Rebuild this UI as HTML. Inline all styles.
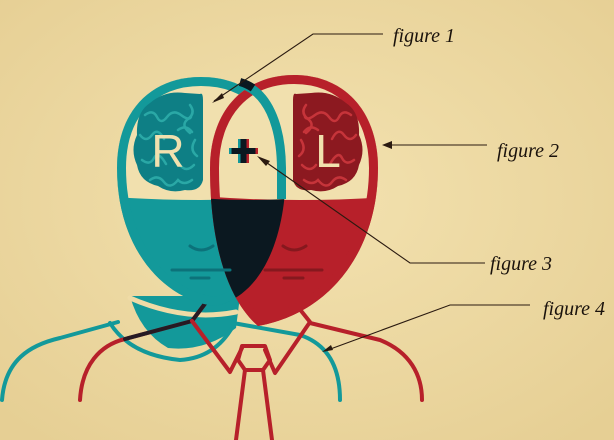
<!DOCTYPE html>
<html><head><meta charset="utf-8"><style>
html,body{margin:0;padding:0;background:#efdba6;}
svg{display:block}
</style></head><body>
<svg width="614" height="440" viewBox="0 0 614 440" xmlns="http://www.w3.org/2000/svg">
<defs>
<radialGradient id="bg" cx="50%" cy="45%" r="70%">
<stop offset="0" stop-color="#f3e2b0"/><stop offset="1" stop-color="#e6cf94"/>
</radialGradient>
<path id="th" d="M201,77 C252,77 286,112 286,168 C286,238 262,296 215,306 C165,300 117,250 117,168 C117,112 150,77 201,77 Z"/>
<path id="rh" d="M294,75 C345,75 378,112 378,168 C378,245 335,312 258,326 C228,300 210,245 210,168 C210,112 243,75 294,75 Z"/>
<clipPath id="ct"><use href="#th"/></clipPath>
<clipPath id="cr"><use href="#rh"/></clipPath>
</defs>
<rect width="614" height="440" fill="url(#bg)"/>

<g fill="none" stroke-linecap="round" stroke-linejoin="round">
<path d="M130,296 L240,296 L236,328 Q205,352 168,348 Q140,332 130,296 Z" fill="#13999a" stroke="none"/>
<path d="M130,298 Q185,322 236,312" stroke="#efdba6" stroke-width="5"/>
<path d="M2,400 C5,360 30,345 60,338 L118,322" stroke="#13999a" stroke-width="4"/>
<path d="M110,323 Q130,355 180,360 Q215,358 233,326" stroke="#13999a" stroke-width="4"/>
<path d="M233,323 L300,335 C330,345 340,370 340,400" stroke="#13999a" stroke-width="4"/>
<path d="M80,400 C82,365 100,345 125,339 L192,321" stroke="#b7202a" stroke-width="4"/>
<path d="M192,321 L210,297" stroke="#b7202a" stroke-width="4"/>
<path d="M125,339 L192,321 L210,297" stroke="#0d1a22" stroke-width="4" stroke-opacity="0.85"/>
<path d="M192,321 L230,372 L242,348" stroke="#b7202a" stroke-width="4"/>
<path d="M290,297 L310,322 L275,373 L265,350" stroke="#b7202a" stroke-width="4"/>
<path d="M310,323 L380,340 C410,352 422,375 422,400" stroke="#b7202a" stroke-width="4"/>
<path d="M242,346 L265,346 L270,360 L263,370 L245,370 L238,360 Z" stroke="#b7202a" stroke-width="4"/>
<path d="M245,370 L236,440 M263,370 L272,440" stroke="#b7202a" stroke-width="4"/>
</g>

<g clip-path="url(#ct)">
<rect x="100" y="60" width="200" height="280" fill="#13999a"/>
<path d="M100,60 H300 V196 Q200,204 100,196 Z" fill="#f1e0ae"/>
<use href="#th" fill="none" stroke="#13999a" stroke-width="18"/>
</g>
<g clip-path="url(#cr)">
<rect x="200" y="60" width="200" height="280" fill="#b7202a"/>
<path d="M200,60 H400 V196 Q300,204 200,196 Z" fill="#f1e0ae"/>
<use href="#rh" fill="none" stroke="#b7202a" stroke-width="18"/>
</g>
<g clip-path="url(#ct)"><g clip-path="url(#cr)">
<path d="M200,198 Q250,202 300,198 V340 H200 Z" fill="#0b1820"/>
</g></g>
<path d="M244,85 C266,93 281,122 281.5,168 L281.5,199" fill="none" stroke="#13999a" stroke-width="9"/>
<path d="M240,82 Q247,84 253,88" fill="none" stroke="#0b1820" stroke-width="8"/>

<path d="M200,94 Q203,92 203,100 L203,180 Q200,192 185,190 Q170,194 158,186 Q140,182 137,165 Q130,150 137,135 Q136,112 150,103 Q165,90 185,93 Z" fill="#0e7f85"/>
<g fill="none" stroke="#2aa8a6" stroke-width="2.5" stroke-linecap="round">
<path d="M145,115 q8,-6 12,2 t10,0 q6,-8 14,-2 t10,2"/>
<path d="M140,135 q6,8 12,0 t12,4 M178,130 q8,-6 14,2"/>
<path d="M142,160 q8,6 12,-2 t12,6 M180,165 q6,8 14,0"/>
<path d="M150,180 q8,-6 14,2 t14,-2 q6,6 14,0"/>
<path d="M190,105 q6,8 -2,14 t2,14 M195,140 q-6,10 2,16"/>
</g>
<path d="M296,94 Q293,92 293,100 L293,180 Q296,192 311,190 Q326,194 338,186 Q356,182 359,165 Q366,150 359,135 Q360,112 346,103 Q331,90 311,93 Z" fill="#8c1920"/>
<g fill="none" stroke="#c6343a" stroke-width="2.5" stroke-linecap="round">
<path d="M351,115 q-8,-6 -12,2 t-10,0 q-6,-8 -14,-2 t-10,2"/>
<path d="M356,135 q-6,8 -12,0 t-12,4 M318,130 q-8,-6 -14,2"/>
<path d="M354,160 q-8,6 -12,-2 t-12,6 M316,165 q-6,8 -14,0"/>
<path d="M346,180 q-8,-6 -14,2 t-14,-2 q-6,6 -14,0"/>
<path d="M306,105 q-6,8 2,14 t-2,14 M301,140 q6,10 -2,16"/>
</g>
<text x="168" y="167" font-family="Liberation Sans, sans-serif" font-size="46" fill="#f1e0ae" text-anchor="middle">R</text>
<text x="328" y="167" font-family="Liberation Sans, sans-serif" font-size="46" fill="#f1e0ae" text-anchor="middle">L</text>
<g stroke-width="6">
<path d="M241,139 V163 M229,151 H253" stroke="#13999a"/>
<path d="M246,139 V163 M234,151 H258" stroke="#b7202a"/>
<path d="M243.5,139 V163 M231.5,151 H255.5" stroke="#0b1820"/>
</g>

<g fill="none" stroke-linecap="round" stroke-width="3">
<path d="M190,246 Q201,254 213,246" stroke="#0c727a"/>
<path d="M172,270 H230 M191,278 H209" stroke="#0c727a"/>
<path d="M283,246 Q294,254 306,246" stroke="#86181e"/>
<path d="M265,270 H322 M284,278 H303" stroke="#86181e"/>
</g>

<g fill="none" stroke="#2a1a10" stroke-width="1.1">
<path d="M383,34 H313 L214,101"/>
<path d="M487,145 H386"/>
<path d="M485,263 H410 L260,158"/>
<path d="M530,305 H450 L325,351"/>
</g>
<g fill="#2a1a10">
<path d="M212,103 L222,93 L224,98 Z"/>
<path d="M382,145 L392,141 L392,149 Z"/>
<path d="M257,156 L270,161 L266,166 Z"/>
<path d="M322,352 L331,345 L333,350 Z"/>
</g>
<g font-family="Liberation Serif, serif" font-style="italic" font-size="20" fill="#1a120c">
<text x="393" y="42">figure 1</text>
<text x="497" y="157">figure 2</text>
<text x="490" y="270">figure 3</text>
<text x="543" y="315">figure 4</text>
</g>
</svg>
</body></html>
